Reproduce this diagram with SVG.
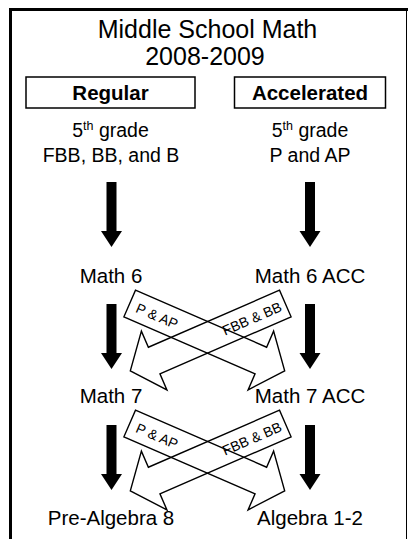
<svg xmlns="http://www.w3.org/2000/svg" xmlns:xlink="http://www.w3.org/1999/xlink" width="408" height="539" viewBox="0 0 408 539">
<style>
text{font-family:"Liberation Sans",Arial,sans-serif;fill:#000}
.t{font-size:25px;text-anchor:middle}
.h{font-size:20.5px;font-weight:bold;text-anchor:middle}
.n{font-size:20.5px;text-anchor:middle}
.g{font-size:19.5px;text-anchor:middle}
.s{font-size:14px}
.box{fill:#fff;stroke:#000;stroke-width:1.5}
.blk{fill:none;stroke:#000;stroke-width:1.4}
</style>
<defs>
<polygon id="down" points="-5,0 5,0 5,49 10.5,49 0,65 -10.5,49 -5,49" fill="#000"/>
<polygon id="blkR" class="blk" points="0,-14.5 143,-14.5 143,-32 169,0 143,32 143,14.5 0,14.5"/>
</defs>
<rect width="408" height="539" fill="#fff"/>
<g id="frame">
<rect x="9" y="8" width="399" height="3" fill="#000"/>
<rect x="9" y="8" width="3" height="531" fill="#000"/>
<line x1="406.5" y1="8" x2="406.5" y2="539" stroke="#000" stroke-width="1"/>
</g>
<g id="title">
<text class="t" x="207.5" y="37.5">Middle School Math</text>
<text class="t" x="205" y="65">2008-2009</text>
</g>
<g id="regular">
<rect class="box" x="26" y="77" width="169" height="31"/>
<text class="h" x="110.5" y="99.5">Regular</text>
</g>
<g id="accelerated">
<rect class="box" x="234.5" y="77" width="151" height="31"/>
<text class="h" x="310" y="99.5">Accelerated</text>
</g>
<g id="grade5-regular">
<text class="g" x="110.5" y="136.5">5<tspan font-size="12.5" dy="-7">th</tspan><tspan dy="7"> grade</tspan></text>
<text class="g" x="111" y="162">FBB, BB, and B</text>
</g>
<g id="grade5-accelerated">
<text class="g" x="310" y="136.5">5<tspan font-size="12.5" dy="-7">th</tspan><tspan dy="7"> grade</tspan></text>
<text class="g" x="310" y="162">P and AP</text>
</g>
<g id="math6"><text class="n" x="111" y="283">Math 6</text></g>
<g id="math6acc"><text class="n" x="310" y="283">Math 6 ACC</text></g>
<g id="math7"><text class="n" x="111" y="403">Math 7</text></g>
<g id="math7acc"><text class="n" x="310" y="403">Math 7 ACC</text></g>
<g id="prealgebra8"><text class="n" x="111" y="525">Pre-Algebra 8</text></g>
<g id="algebra12"><text class="n" x="310" y="525">Algebra 1-2</text></g>
<g id="connectors">
<use xlink:href="#down" x="111.5" y="182"/>
<use xlink:href="#down" x="310" y="182"/>
<use xlink:href="#down" x="111.5" y="304"/>
<use xlink:href="#down" x="310" y="304"/>
<use xlink:href="#down" x="111.5" y="425"/>
<use xlink:href="#down" x="310" y="425"/>
<g transform="translate(285.3,303.5) rotate(-23.5)">
<use xlink:href="#blkR" transform="scale(-1,1)"/>
<text class="s" x="-5" y="5.5" text-anchor="end">FBB &amp; BB</text>
</g>
<g transform="translate(129.7,303.5) rotate(23.5)">
<use xlink:href="#blkR"/>
<text class="s" x="8" y="5.5">P &amp; AP</text>
</g>
<g transform="translate(285.3,423.5) rotate(-23.5)">
<use xlink:href="#blkR" transform="scale(-1,1)"/>
<text class="s" x="-5" y="5.5" text-anchor="end">FBB &amp; BB</text>
</g>
<g transform="translate(129.7,423.5) rotate(23.5)">
<use xlink:href="#blkR"/>
<text class="s" x="8" y="5.5">P &amp; AP</text>
</g>
</g>
</svg>
